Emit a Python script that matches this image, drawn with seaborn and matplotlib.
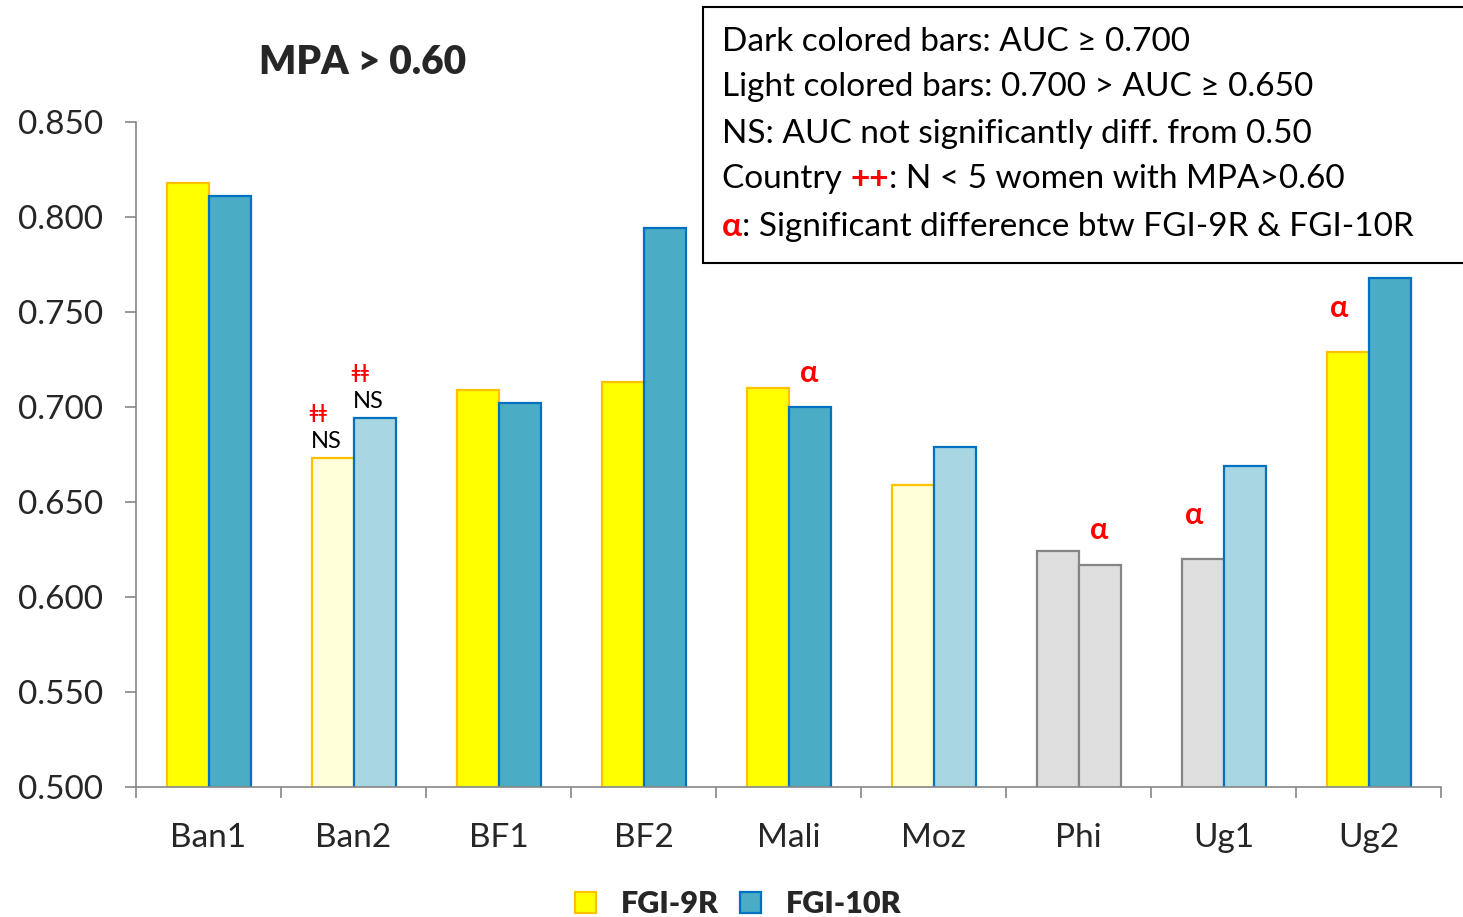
import numpy as np
import pandas as pd
import seaborn as sns
import matplotlib.pyplot as plt
from matplotlib.patches import Patch, Rectangle
from matplotlib.text import Annotation

# values (AUC, MPA > 0.60)
countries = ["Ban1", "Ban2", "BF1", "BF2", "Mali", "Moz", "Phi", "Ug1", "Ug2"]
fgi_9r = [0.818, 0.673, 0.709, 0.713, 0.710, 0.659, 0.624, 0.620, 0.729]
fgi_10r = [0.811, 0.694, 0.702, 0.794, 0.700, 0.679, 0.617, 0.669, 0.768]
series = ["FGI-9R", "FGI-10R"]

# annotation flags per series
ns_flags = {"FGI-9R": ["Ban2"], "FGI-10R": ["Ban2"]}
alpha_flags = {"FGI-9R": ["Ug1", "Ug2"], "FGI-10R": ["Mali", "Phi"]}

df = pd.DataFrame({
    "country": countries * 2,
    "indicator": [series[0]] * len(countries) + [series[1]] * len(countries),
    "auc": fgi_9r + fgi_10r,
})

# dark / light / grey shading following the box legend
colors = {
    "FGI-9R": {"dark": "#FFFF00", "light": "#FFFFD9", "edge": "#FFC000"},
    "FGI-10R": {"dark": "#4BACC6", "light": "#A8D6E3", "edge": "#0070C0"},
}
grey_face, grey_edge = "#DEDEDE", "#858585"

sns.set_style("white")
plt.rcParams["font.family"] = ["Lato", "DejaVu Sans"]

fig = plt.figure(figsize=(14.63, 9.17), dpi=100)
ax = fig.add_axes([0.093, 0.142, 0.892, 0.725])

sns.barplot(data=df, x="country", y="auc", hue="indicator", hue_order=series,
            order=countries, width=0.58, ax=ax, legend=False, errorbar=None)

for name, container in zip(series, ax.containers):
    for bar, country in zip(container, countries):
        val = bar.get_height()
        if val >= 0.700:
            face, edge = colors[name]["dark"], colors[name]["edge"]
        elif val >= 0.650:
            face, edge = colors[name]["light"], colors[name]["edge"]
        else:
            face, edge = grey_face, grey_edge
        bar.set_facecolor(face)
        bar.set_edgecolor(edge)
        bar.set_linewidth(1.6)
        cx = bar.get_x() + bar.get_width() / 2
        if country in ns_flags[name]:
            ax.text(cx - 0.04, val + 0.0035, "NS", ha="center", va="bottom",
                    fontsize=17, color="black")
            ax.text(cx - 0.1, val + 0.019, "ǂǂ", ha="center", va="bottom",
                    fontsize=13, color="red", fontweight="bold")
        if country in alpha_flags[name]:
            # yellow-bar markers sit a bit higher and to the left
            dx, dy = (-0.055, 0.023) if name == "FGI-9R" else (0.0, 0.018)
            ax.text(cx + dx, val + dy, "α", ha="center", va="center",
                    fontsize=22, color="red", fontweight="bold")

ax.set_ylim(0.5, 0.85)
ax.set_xlim(-0.5, len(countries) - 0.5)
ax.set_yticks(np.arange(0.5, 0.851, 0.05))
ax.set_yticklabels([f"{t:.3f}" for t in np.arange(0.5, 0.851, 0.05)], fontsize=24)
ax.tick_params(axis="y", length=8, width=1.2, color="#868686", direction="out",
               pad=16, left=True)

ax.set_xticks(np.arange(-0.5, len(countries), 1.0))
ax.set_xticklabels([])
ax.set_xticks(np.arange(len(countries)), minor=True)
ax.set_xticklabels(countries, minor=True, fontsize=24)
ax.tick_params(axis="x", which="major", length=8, width=1.2, color="#868686",
               direction="out", bottom=True)
ax.tick_params(axis="x", which="minor", length=0, pad=26)

for side in ["top", "right"]:
    ax.spines[side].set_visible(False)
for side in ["left", "bottom"]:
    ax.spines[side].set_color("#868686")
    ax.spines[side].set_linewidth(1.2)
ax.set_xlabel("")
ax.set_ylabel("")

fig.text(363 / 1463, 1 - 62 / 917, "MPA > 0.60", ha="center", va="center",
         fontsize=28, fontweight="heavy")

# key box in the upper right
fig.add_artist(Rectangle((703 / 1463, 1 - 263 / 917), 0.6, 256 / 917,
                         transform=fig.transFigure, facecolor="white",
                         edgecolor="black", linewidth=1.5, clip_on=False,
                         zorder=1))


def line_parts(y, parts):
    x0 = 722 / 1463
    prev = None
    for text, color, weight in parts:
        if prev is None:
            prev = fig.text(x0, 1 - y / 917, text, color=color, fontweight=weight,
                            fontsize=24, ha="left", va="center", zorder=3)
        else:
            prev = fig.add_artist(Annotation(text, xy=(1, 0), xycoords=prev,
                                             color=color, fontweight=weight,
                                             fontsize=24, ha="left", va="bottom",
                                             annotation_clip=False, zorder=3))


line_parts(42, [("Dark colored bars: AUC ≥ 0.700", "black", "normal")])
line_parts(87, [("Light colored bars: 0.700 > AUC ≥ 0.650", "black", "normal")])
line_parts(134, [("NS: AUC not significantly diff. from 0.50", "black", "normal")])
line_parts(179, [("Country ", "black", "normal"), ("++", "red", "bold"),
                 (": N < 5 women with MPA>0.60", "black", "normal")])
line_parts(227, [("α", "red", "bold"),
                 (": Significant difference btw FGI-9R & FGI-10R", "black", "normal")])

handles = [Patch(facecolor=colors[s]["dark"], edgecolor=colors[s]["edge"],
                 linewidth=1.6) for s in series]
fig.legend(handles, series, loc="center", bbox_to_anchor=(738 / 1463, 1 - 904 / 917),
           ncol=2, frameon=False, prop={"size": 22, "weight": "heavy"},
           handlelength=0.7, handleheight=0.7, columnspacing=0.7, handletextpad=0.8)

fig.savefig("out.png", dpi=100)
